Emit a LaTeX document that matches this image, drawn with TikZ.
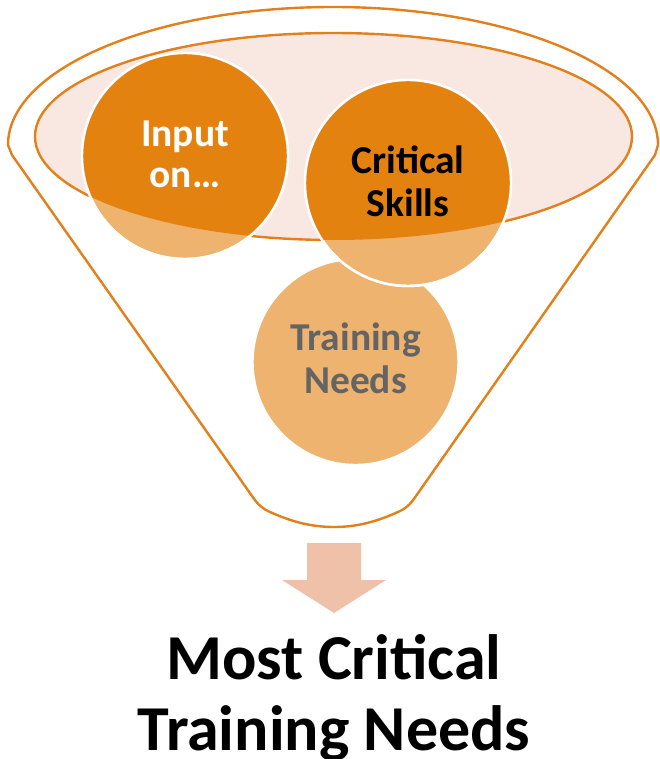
\documentclass[tikz,border=0pt]{standalone}
\usepackage{fontspec}
\setmainfont{Carlito}
\definecolor{funnelline}{HTML}{E2801C}
\definecolor{mouthfill}{HTML}{F9E7E1}
\definecolor{balllight}{HTML}{EDB36F}
\definecolor{balldark}{HTML}{E4820F}
\definecolor{arrowfill}{HTML}{F0C1A9}
\definecolor{bgblue}{HTML}{EDF4F8}
\definecolor{needgray}{HTML}{646464}
\begin{document}
\begin{tikzpicture}[x=1pt,y=-1pt,
  outline/.style={draw=funnelline,line width=2.4pt},
  ball/.style={fill=balllight},
  ballrim/.style={draw=white,line width=2.4pt},
  balltext/.style={font=\fontsize{39.5}{42}\selectfont\bfseries,anchor=base,inner sep=0pt},
  bigtext/.style={font=\fontsize{64}{71}\selectfont\bfseries,anchor=base,inner sep=0pt}]

% canvas and soft background
\useasboundingbox (0,0) rectangle (659,759);
\shade[top color=white,middle color=bgblue,bottom color=white] (0,0) rectangle (659,759);

% funnel body
\path[outline,fill=white,fill opacity=0.45]
  (8,145) arc[start angle=180,end angle=0,x radius=325pt,y radius=138pt]
  -- (655,155) -- (416,496)
  .. controls (410,505) and (405,509) .. (398,512)
  .. controls (380,520) and (360,527) .. (334,527)
  .. controls (308,527) and (288,520) .. (270,512)
  .. controls (263,509) and (258,505) .. (252,496)
  -- (12,155) -- cycle;

% funnel mouth
\coordinate (mouth) at (333.5,136.5);
\path[outline,fill=mouthfill] (mouth) ellipse[x radius=298.5pt,y radius=103.5pt];

% ball centres
\coordinate (cTrain) at (355.5,362);
\coordinate (cInput) at (185,156);
\coordinate (cSkill) at (408,183);

% balls, pale where they sit below the mouth
\path[ball,ballrim] (cTrain) circle[radius=103pt];
\path[ball,ballrim] (cInput) circle[radius=103pt];
\path[ball,ballrim] (cSkill) circle[radius=103pt];

% full colour inside the mouth
\begin{scope}
  \clip (mouth) ellipse[x radius=298.5pt,y radius=103.5pt];
  \fill[balldark] (cInput) circle[radius=103pt];
  \fill[balldark] (cSkill) circle[radius=103pt];
\end{scope}
\draw[ballrim] (cInput) circle[radius=103pt];
\draw[ballrim] (cSkill) circle[radius=103pt];

% ball labels
\node[balltext,text=white] (in1) at (185,147) {Input};
\node[balltext,text=white] (in2) at (185,188) {on…};
\node[balltext,text=black] (sk1) at (408,174) {Critical};
\node[balltext,text=black] (sk2) at (408,216) {Skills};
\node[balltext,text=needgray] (tr1) at (355.5,350) {Training};
\node[balltext,text=needgray] (tr2) at (355.5,393) {Needs};

% block arrow out of the funnel
\fill[arrowfill] (307,543) -- (361,543) -- (361,580) -- (386,580)
  -- (334,613) -- (282,580) -- (307,580) -- cycle;

% result
\node[bigtext] (res1) at (334,679) {Most Critical};
\node[bigtext] (res2) at (334,750) {Training Needs};
\end{tikzpicture}
\end{document}
